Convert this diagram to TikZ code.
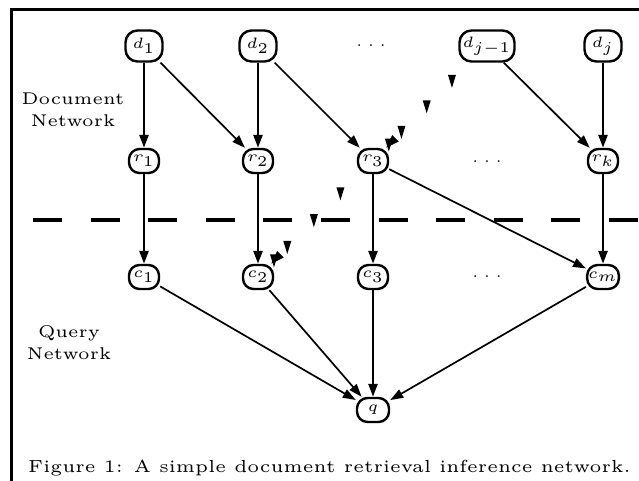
\documentclass[tikz,border=0pt]{standalone}
\usepackage{graphicx}
\usetikzlibrary{arrows.meta,decorations.markings}

% small optical sizes of Computer Modern, scaled up
\newcommand{\lbl}[1]{\scalebox{3.0}{\fontsize{5}{6}\selectfont$#1$}}
\newcommand{\cmtext}[2]{\scalebox{#1}{\fontsize{5}{6.5}\selectfont\begin{tabular}{@{}c@{}}#2\end{tabular}}}
\newcommand{\dropmark}{\pgftransformresetnontranslations
  \fill (-4pt,6.5pt) -- (4pt,6.5pt) -- (0pt,-6.5pt) -- cycle;}

\begin{document}
\begin{tikzpicture}[x=1pt, y=-1pt,
        docnode/.style={draw, line width=2.4pt, rounded corners=12pt, minimum width=37pt, minimum height=31pt, inner sep=1pt},
        smallnode/.style={docnode, minimum width=30pt, minimum height=24pt, rounded corners=10.5pt},
        dots/.style={inner sep=0pt},
        arrow/.style={-{Triangle[length=13pt 0 0, width=9pt 0]}, line width=1.7pt},
        varrow/.style={arrow, line width=2.6pt},
        ghost/.style={decoration={markings,
            mark=at position 0.22 with {\dropmark},
            mark=at position 0.52 with {\dropmark},
            mark=at position 0.82 with {\dropmark},
            mark=at position 0.97 with {\dropmark},
            mark=at position 1 with {\arrow{Triangle[length=13pt, width=9pt]}}},
            postaction=decorate},
        sep/.style={line width=4.5pt, dash pattern=on 29pt off 28.6pt}
    ]
        \useasboundingbox (0,0) rectangle (639,481);

        % Frame
        \draw[line width=3pt] (11,481) -- (11,10) -- (639,10);

        % Document nodes
        \node[docnode] (d1) at (144, 46) {\lbl{d_1}};
        \node[docnode] (d2) at (258, 46) {\lbl{d_2}};
        \node[dots] (ddots) at (371, 46) {\lbl{.\mkern4mu.\mkern4mu.}};
        \node[docnode, minimum width=55pt] (dj1) at (487, 46) {\lbl{d_{j-1}}};
        \node[docnode] (dj) at (603, 46) {\lbl{d_j}};

        % Representation nodes
        \node[smallnode] (r1) at (144, 161) {\lbl{r_1}};
        \node[smallnode] (r2) at (258, 161) {\lbl{r_2}};
        \node[smallnode] (r3) at (373, 161) {\lbl{r_3}};
        \node[dots] (rdots) at (487, 162) {\lbl{.\mkern4mu.\mkern4mu.}};
        \node[smallnode] (rk) at (603, 161) {\lbl{r_k}};

        % Concept nodes
        \node[smallnode] (c1) at (144, 277) {\lbl{c_1}};
        \node[smallnode] (c2) at (258, 277) {\lbl{c_2}};
        \node[smallnode] (c3) at (373, 277) {\lbl{c_3}};
        \node[dots] (cdots) at (487, 277) {\lbl{.\mkern4mu.\mkern4mu.}};
        \node[smallnode] (cm) at (603, 277) {\lbl{c_m}};

        % Query node
        \node[smallnode, minimum width=32pt] (q) at (373, 410) {\lbl{q}};

        % Labels
        \node (doclabel) at (73, 111) {\cmtext{3.4}{Document\\Network}};
        \node (querylabel) at (69, 344) {\cmtext{3.4}{Query\\Network}};
        \node[anchor=base west, inner sep=0pt] (caption) at (28, 472) {\cmtext{3.5}{Figure 1: A simple document retrieval inference network.}};

        % Separator
        \coordinate (sepL) at (33, 220);
        \coordinate (sepR) at (639, 220);
        \draw[sep] (sepL) -- (sepR);

        % Arrows
        \draw[varrow] (d1) -- (r1);
        \draw[arrow] (d1) -- (r2);
        \draw[varrow] (d2) -- (r2);
        \draw[arrow] (d2) -- (r3);
        \draw[arrow] (dj1) -- (rk);
        \draw[varrow] (dj) -- (rk);
        \path[ghost] (dj1) -- (r3);

        \draw[varrow] (r1) -- (c1);
        \draw[varrow] (r2) -- (c2);
        \draw[varrow] (r3) -- (c3);
        \draw[arrow] (r3) -- (cm);
        \draw[varrow] (rk) -- (cm);
        \path[ghost] (r3) -- (c2);

        \draw[arrow] (c1) -- (q);
        \draw[arrow] (c2) -- (q);
        \draw[varrow] (c3) -- (q);
        \draw[arrow] (cm) -- (q);

    \end{tikzpicture}
\end{document}
